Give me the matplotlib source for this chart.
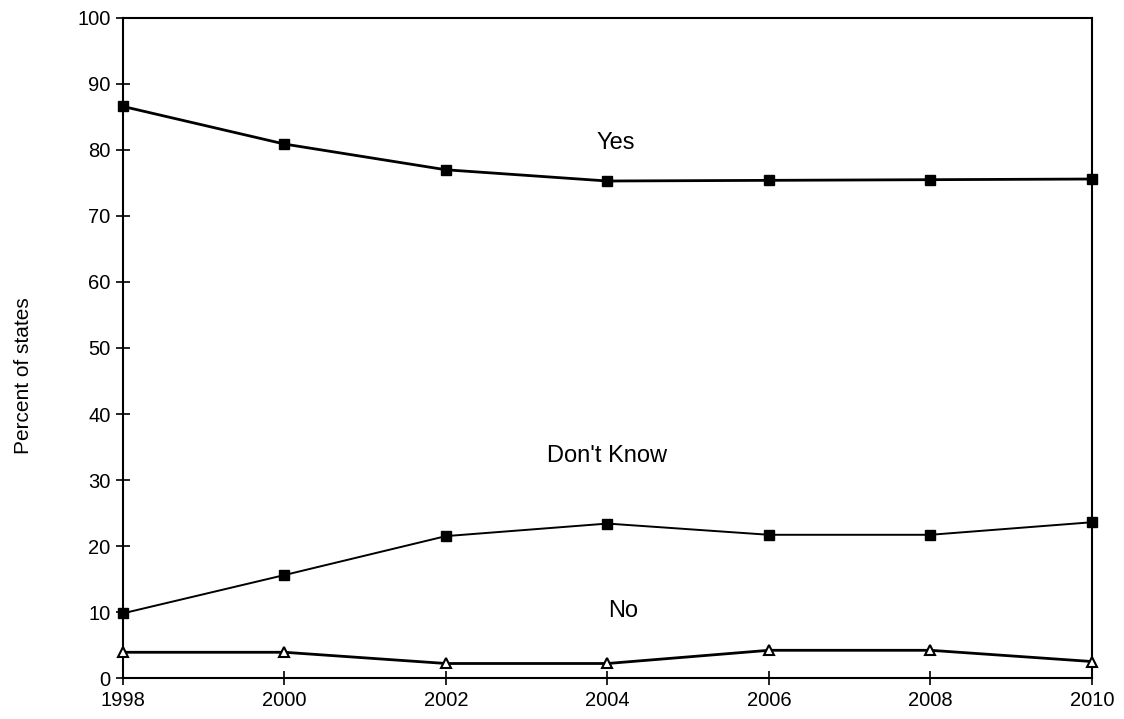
import matplotlib
matplotlib.use("Agg")
import matplotlib.pyplot as plt

plt.rcParams["font.family"] = ["Liberation Sans", "DejaVu Sans"]

YEARS = [1998, 2000, 2002, 2004, 2006, 2008, 2010]
YES = [86.6, 80.9, 77.0, 75.3, 75.4, 75.5, 75.6]
DONT_KNOW = [9.8, 15.6, 21.5, 23.4, 21.7, 21.7, 23.6]
NO = [3.9, 3.9, 2.2, 2.2, 4.2, 4.2, 2.5]

LABELS = [("Yes", 2004.1, 81.1), ("Don't Know", 2004.0, 33.6), ("No", 2004.2, 10.2)]

fig = plt.figure(figsize=(11.24, 7.19), dpi=100)
ax = fig.add_axes([0.1094, 0.057, 0.862, 0.918])

ax.plot(YEARS, YES, color="black", lw=2.0, marker="s", markersize=7,
        markerfacecolor="black", clip_on=False, zorder=3)
ax.plot(YEARS, DONT_KNOW, color="black", lw=1.4, marker="s", markersize=7,
        markerfacecolor="black", clip_on=False, zorder=3)
ax.plot(YEARS, NO, color="black", lw=2.0, marker="^", markersize=6.5,
        markerfacecolor="white", markeredgewidth=1.5, clip_on=False, zorder=3)

for text, x, y in LABELS:
    ax.text(x, y, text, ha="center", va="center", fontsize=17)

ax.set_xlim(1998, 2010)
ax.set_ylim(0, 100)
ax.set_xticks(YEARS)
ax.set_yticks(range(0, 101, 10))
ax.tick_params(direction="inout", length=10, width=1.2, labelsize=14.5, pad=4)
for s in ax.spines.values():
    s.set_linewidth(1.5)

fig.text(0.0205, 0.478, "Percent of states", rotation=90, ha="center",
         va="center", fontsize=15)

fig.savefig("out.png", dpi=100)
